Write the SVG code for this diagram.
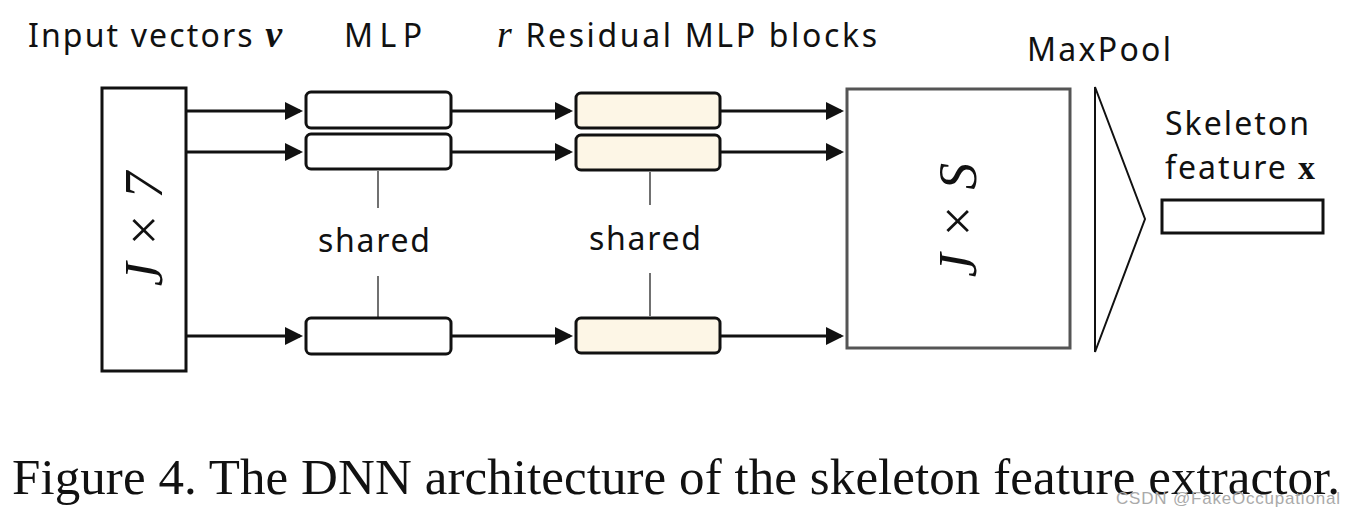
<svg xmlns="http://www.w3.org/2000/svg" width="1356" height="517" viewBox="0 0 1356 517">
<style>
.t{font-family:"Noto Sans",sans-serif;font-size:32px;fill:#111}
.m{font-family:"Liberation Serif",serif;font-style:italic;font-size:54px;fill:#111}
.b{fill:#fff;stroke:#111;stroke-width:3}
.r{fill:#fdf6e6;stroke:#111;stroke-width:3}
.c{stroke:#111;stroke-width:3;fill:none;marker-end:url(#a)}
.s{stroke:#111;stroke-width:1.2}
</style>
<defs><marker id="a" markerWidth="6" markerHeight="6" refX="5" refY="3" orient="auto" markerUnits="strokeWidth"><path d="M0,0L6,3L0,6z" fill="#111"/></marker></defs>
<rect width="1356" height="517" fill="#fff"/>
<text class="t" x="28" y="47" textLength="254">Input vectors <tspan font-family="Liberation Serif" font-style="italic" font-weight="bold" font-size="38">v</tspan></text>
<text class="t" x="344" y="47" textLength="78">MLP</text>
<text class="t" x="497" y="47" textLength="380"><tspan font-family="Liberation Serif" font-style="italic" font-size="38">r</tspan> Residual MLP blocks</text>
<text class="t" x="1027" y="61" textLength="144">MaxPool</text>
<text class="t" x="1165" y="135" textLength="144">Skeleton</text>
<text class="t" x="1165" y="179" textLength="150">feature <tspan font-family="Liberation Serif" font-weight="bold" font-size="34">x</tspan></text>
<g id="input"><rect x="102" y="88" width="84" height="283" class="b"/><text class="m" transform="translate(162,229) rotate(-90)" text-anchor="middle">J × 7</text></g>
<g id="mlp1"><rect x="306" y="92" width="145" height="36" rx="5" class="b"/></g>
<g id="mlp2"><rect x="306" y="134" width="145" height="35" rx="5" class="b"/></g>
<g id="mlp3"><rect x="306" y="318" width="145" height="36" rx="5" class="b"/></g>
<g id="res1"><rect x="576" y="93" width="144" height="35" rx="5" class="r"/></g>
<g id="res2"><rect x="576" y="135" width="144" height="35" rx="5" class="r"/></g>
<g id="res3"><rect x="576" y="318" width="144" height="35" rx="5" class="r"/></g>
<g id="feat"><rect x="847" y="89" width="223" height="259" fill="#fff" stroke="#555" stroke-width="3"/><text class="m" transform="translate(976,220) rotate(-90)" text-anchor="middle">J × S</text></g>
<g id="maxpool"><polygon points="1095,87 1145,219 1095,352" fill="#fff" stroke="#111" stroke-width="2"/></g>
<g id="skel"><rect x="1162" y="200" width="161" height="33" class="b" stroke-width="2"/></g>
<g id="shared"><text class="t" x="374" y="252" text-anchor="middle" textLength="112">shared</text><text class="t" x="645" y="250" text-anchor="middle" textLength="112">shared</text>
<line x1="378" y1="171" x2="378" y2="208" class="s"/><line x1="378" y1="276" x2="378" y2="317" class="s"/>
<line x1="650" y1="172" x2="650" y2="205" class="s"/><line x1="650" y1="273" x2="650" y2="316" class="s"/></g>
<g id="connectors">
<line x1="187" y1="111" x2="300" y2="111" class="c"/><line x1="187" y1="152" x2="300" y2="152" class="c"/><line x1="187" y1="336" x2="300" y2="336" class="c"/>
<line x1="452" y1="111" x2="570" y2="111" class="c"/><line x1="452" y1="152" x2="570" y2="152" class="c"/><line x1="452" y1="336" x2="570" y2="336" class="c"/>
<line x1="721" y1="111" x2="841" y2="111" class="c"/><line x1="721" y1="152" x2="841" y2="152" class="c"/><line x1="721" y1="336" x2="841" y2="336" class="c"/>
</g>
<text x="12" y="494" font-family="Liberation Serif" font-size="51" fill="#111" textLength="1328">Figure 4. The DNN architecture of the skeleton feature extractor.</text>
<text x="1116" y="504" font-family="Liberation Sans" font-size="17" fill="#aaa" textLength="224">CSDN @FakeOccupational</text>
</svg>
